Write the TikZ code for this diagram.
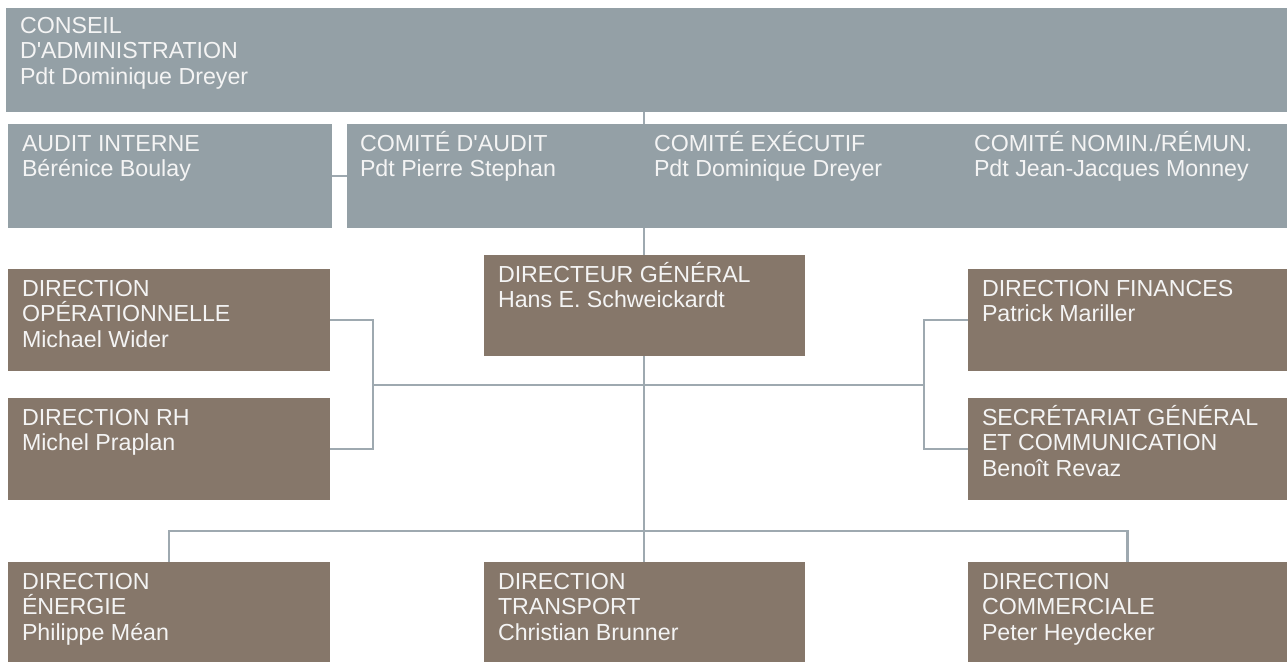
\documentclass[tikz,border=0pt]{standalone}
\usepackage{fontspec}
\setmainfont{Liberation Sans}
\definecolor{boxgrey}{RGB}{148,160,166}
\definecolor{boxbrown}{RGB}{134,119,106}
\definecolor{linegrey}{RGB}{158,169,176}
\definecolor{txtwhite}{RGB}{244,244,244}
\tikzset{
  box/.style={rectangle, inner sep=0pt, outer sep=0pt, draw=none, anchor=north west},
  greybox/.style={box, fill=boxgrey},
  brownbox/.style={box, fill=boxbrown},
  txt/.style={inner sep=0pt, outer sep=0pt, anchor=base west, align=left, text=txtwhite,
    font=\fontsize{23.2}{25.5}\selectfont},
  conn/.style={draw=linegrey, line width=2.5pt}
}
\begin{document}
\begin{tikzpicture}[x=1pt,y=-1pt]
\path[use as bounding box, fill=white] (0,0) rectangle (1287,662);
% boxes
\node[greybox, minimum width=1281pt, minimum height=104pt] (cons) at (6,8) {};
\node[greybox, minimum width=324pt, minimum height=104pt] (audit) at (8,124) {};
\node[greybox, minimum width=940pt, minimum height=104pt] (comite) at (347,124) {};
\node[brownbox, minimum width=321pt, minimum height=101pt] (dg) at (484,255) {};
\node[brownbox, minimum width=322pt, minimum height=102pt] (op) at (8,269) {};
\node[brownbox, minimum width=322pt, minimum height=102pt] (rh) at (8,398) {};
\node[brownbox, minimum width=319pt, minimum height=102pt] (fin) at (968,269) {};
\node[brownbox, minimum width=319pt, minimum height=102pt] (sec) at (968,398) {};
\node[brownbox, minimum width=322pt, minimum height=100pt] (ene) at (8,562) {};
\node[brownbox, minimum width=321pt, minimum height=100pt] (tra) at (484,562) {};
\node[brownbox, minimum width=319pt, minimum height=100pt] (com) at (968,562) {};
% texts (anchor base = baseline of the last line)
\node[txt] (consT) at ([shift={(14,76)}]cons.north west) {CONSEIL\\D\textquotesingle ADMINISTRATION\\Pdt Dominique Dreyer};
\node[txt] (auditT) at ([shift={(14,52.5)}]audit.north west) {AUDIT INTERNE\\Bérénice Boulay};
\node[txt] (comA) at (360,176.5) {COMITÉ D\textquotesingle AUDIT\\Pdt Pierre Stephan};
\node[txt] (comE) at (654,176.5) {COMITÉ EXÉCUTIF\\Pdt Dominique Dreyer};
\node[txt] (comN) at (974,176.5) {COMITÉ NOMIN./RÉMUN.\\Pdt Jean-Jacques Monney};
\node[txt] (dgT) at ([shift={(14,52.5)}]dg.north west) {DIRECTEUR GÉNÉRAL\\Hans E. Schweickardt};
\node[txt] (opT) at ([shift={(14,78)}]op.north west) {DIRECTION\\OPÉRATIONNELLE\\Michael Wider};
\node[txt] (rhT) at ([shift={(14,52.5)}]rh.north west) {DIRECTION RH\\Michel Praplan};
\node[txt] (finT) at ([shift={(14,52.5)}]fin.north west) {DIRECTION FINANCES\\Patrick Mariller};
\node[txt] (secT) at ([shift={(14,78)}]sec.north west) {SECRÉTARIAT GÉNÉRAL\\ET COMMUNICATION\\Benoît Revaz};
\node[txt] (eneT) at ([shift={(14,78)}]ene.north west) {DIRECTION\\ÉNERGIE\\Philippe Méan};
\node[txt] (traT) at ([shift={(14,78)}]tra.north west) {DIRECTION\\TRANSPORT\\Christian Brunner};
\node[txt] (comT) at ([shift={(14,78)}]com.north west) {DIRECTION\\COMMERCIALE\\Peter Heydecker};
% connector coordinates
\coordinate (cx) at (644,0);
\coordinate (lx) at (373,385);
\coordinate (rx) at (924,385);
\coordinate (bus) at (644,531);
% connectors
\draw[conn] (cons.south -| cx) -- (comite.north -| cx);
\draw[conn] (comite.south -| cx) -- (dg.north -| cx);
\draw[conn] (audit.east) -- (comite.west);
\draw[conn] (dg.south -| cx) -- (tra.north -| cx);
\draw[conn] (op.east) -| (lx) |- (rh.east);
\draw[conn] (fin.west) -| (rx) |- (sec.west);
\draw[conn] (lx) -- (rx);
\draw[conn] (ene.north) -- (ene.north |- bus) -- (com.north |- bus) -- (com.north);
\end{tikzpicture}
\end{document}
